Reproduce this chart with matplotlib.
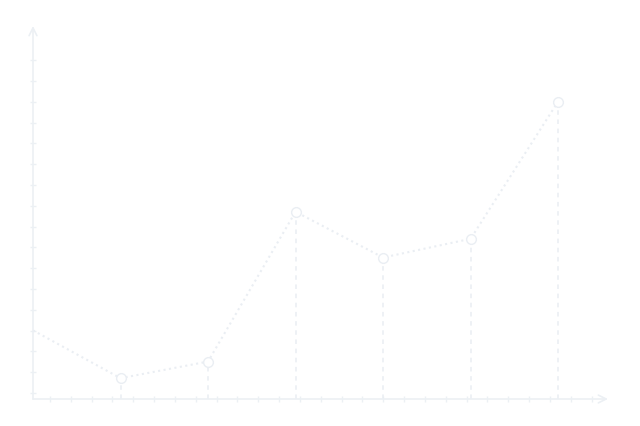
import numpy as np
import matplotlib
matplotlib.use("Agg")
import matplotlib.pyplot as plt

# data
points = [0, 1, 2, 3, 4, 5, 6]
values = [33, 10, 18, 90, 68, 77, 143]

lineColor = "#eaeef3"
axisColor = "#ecf0f4"

fig = plt.figure(figsize=(6.4, 4.26), dpi=100)
ax = fig.add_axes([33 / 640, 27 / 426, 575 / 640, 373 / 426])
ax.set_xlim(0, 6.57)
ax.set_ylim(0, 179.3)
ax.axis("off")

# axes drawn by hand, with arrow heads
ax.annotate("", xy=(6.57, 0), xytext=(0, 0),
            arrowprops=dict(arrowstyle="->", color=axisColor, lw=1.2,
                            mutation_scale=14, shrinkA=0, shrinkB=0),
            annotation_clip=False)
ax.annotate("", xy=(0, 179.3), xytext=(0, 0),
            arrowprops=dict(arrowstyle="->", color=axisColor, lw=1.2,
                            mutation_scale=14, shrinkA=0, shrinkB=0),
            annotation_clip=False)

xticks = 0.194 + 0.238 * np.arange(27)
yticks = 2.9 + 10.0 * np.arange(17)
ax.plot(xticks, np.zeros_like(xticks), linestyle="none", marker="|",
        markersize=5, color=axisColor, clip_on=False)
ax.plot(np.zeros_like(yticks), yticks, linestyle="none", marker="_",
        markersize=5, color=axisColor, clip_on=False)

# drop lines
for x, y in zip(points[1:], values[1:]):
    ax.plot([x, x], [0, y], linestyle=(0, (3, 3)), color=lineColor, lw=1.1)

ax.plot(points, values, linestyle=":", color=lineColor, lw=1.5, clip_on=False)
ax.plot(points[1:], values[1:], linestyle="none",
        marker="o", markersize=7, markerfacecolor="white",
        markeredgecolor=lineColor, markeredgewidth=1.0, clip_on=False)

fig.savefig("out.png", dpi=100)
